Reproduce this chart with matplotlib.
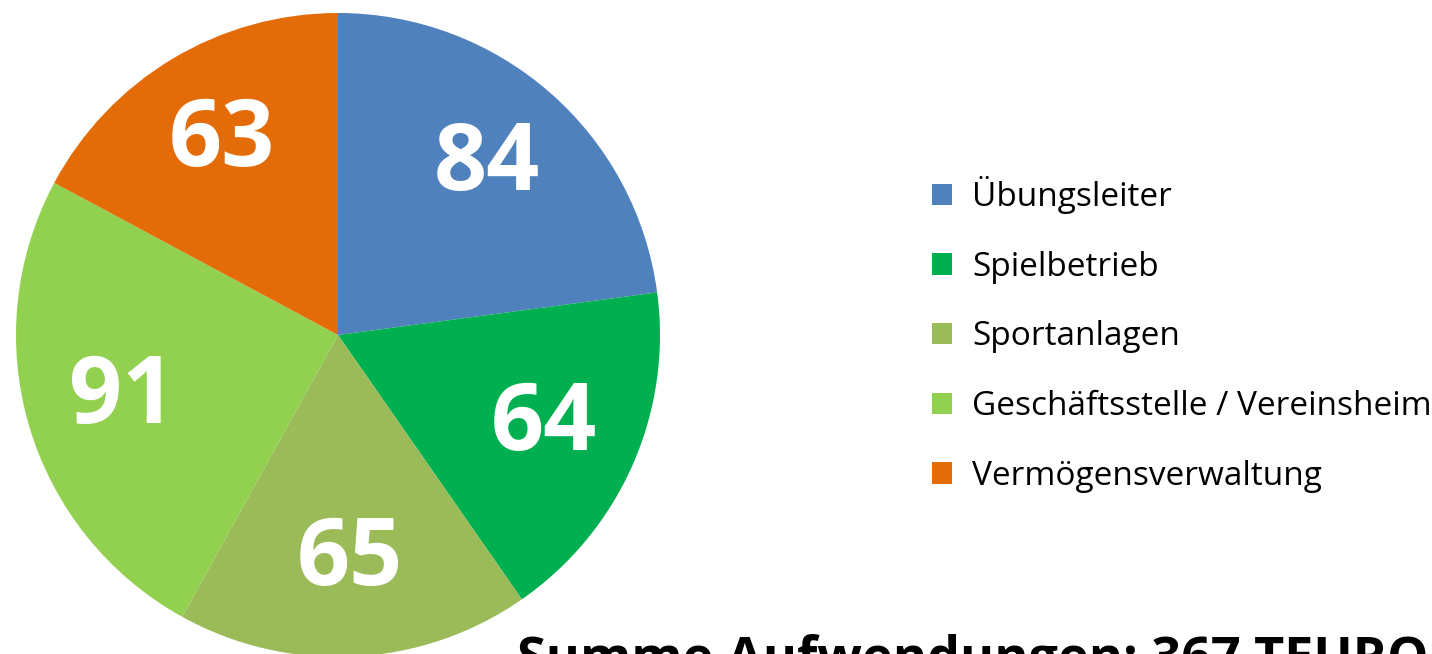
import matplotlib.pyplot as plt

categories = ['Übungsleiter', 'Spielbetrieb', 'Sportanlagen',
              'Geschäftsstelle / Vereinsheim', 'Vermögensverwaltung']
values = [84, 64, 65, 91, 63]
colors = ['#4F81BD', '#00B050', '#9BBB59', '#92D050', '#E36C09']
total_text = 'Summe Aufwendungen: 367 TEURO'

W, H = 1432, 654
fig = plt.figure(figsize=(W / 100, H / 100), dpi=100)

# pie: center (338, 335) px, radius 322 px
cx, cy, r = 338, 335, 322
ax = fig.add_axes([(cx - r) / W, (H - cy - r) / H, 2 * r / W, 2 * r / H])
wedges, texts = ax.pie(values, colors=colors, startangle=90, counterclock=False,
                       labels=[str(v) for v in values], labeldistance=0.7,
                       radius=1, wedgeprops=dict(linewidth=0))
for t in texts:
    t.set_color('white')
    t.set_fontsize(67)
    t.set_fontweight('bold')
    t.set_fontfamily('Open Sans')
    t.set_ha('center')
    t.set_va('center')
ax.set_xlim(-1, 1)
ax.set_ylim(-1, 1)
ax.set_aspect('equal')
ax.axis('off')

leg = fig.legend(wedges, categories, loc='upper left',
                 bbox_to_anchor=(932 / W, 1 - 176 / H),
                 frameon=False, prop={'family': 'Open Sans', 'size': 24},
                 handlelength=0.6, handleheight=0.6, handletextpad=0.6,
                 labelspacing=1.1, borderpad=0, borderaxespad=0)

fig.text(517 / W, 1 - 634 / H, total_text, ha='left', va='top',
         fontsize=37.5, fontweight='bold', family='Open Sans')

fig.savefig('out.png', dpi=100)
